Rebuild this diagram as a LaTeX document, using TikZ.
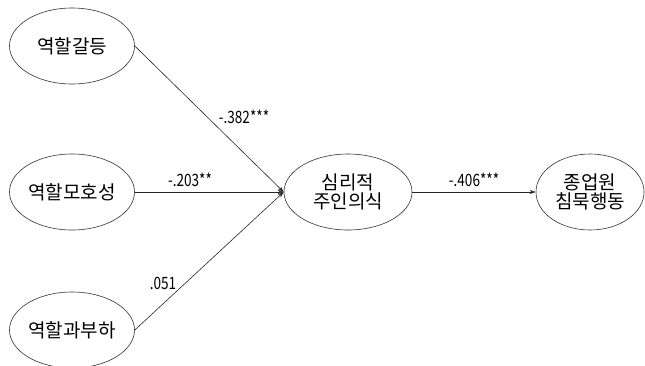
\documentclass[tikz,border=0pt]{standalone}
\usepackage{fontspec}
\setmainfont{Noto Sans CJK KR}
\usetikzlibrary{arrows.meta,shapes.geometric}
\begin{document}
\begin{tikzpicture}[x=1pt,y=-1pt,
  latent/.style={draw=black!80,line width=0.6pt,ellipse,minimum width=#1,minimum height=76pt,inner sep=0pt,font=\fontsize{19}{21}\selectfont,align=center},
  latent/.default=125pt,
  path/.style={draw=black!85,line width=0.6pt,-{Stealth[length=6pt,width=4pt]}},
  coef/.style={font=\fontsize{17}{19}\selectfont\addfontfeature{FakeStretch=0.8}}]
\useasboundingbox (0,0) rectangle (645,365);
\node[latent] (a) at (72,46) {역할갈등};
\node[latent] (b) at (72,192) {역할모호성};
\node[latent] (c) at (72,330) {역할과부하};
\node[latent=128pt] (m) at (348,192) {심리적\\[-2pt]주인의식};
\node[latent=108pt] (y) at (590,192) {종업원\\[-2pt]침묵행동};
\coordinate (t) at (m.west);
\draw[path] (a.east) -- (t);
\draw[path] (b) -- (t);
\draw[path] (c.east) -- (t);
\draw[path] (m) -- (y);
\node[coef] (la) at (244,117) {-.382***};
\node[coef] (lb) at (190,180) {-.203**};
\node[coef] (lc) at (163,283) {.051};
\node[coef] (ld) at (474,180) {-.406***};
\end{tikzpicture}
\end{document}
